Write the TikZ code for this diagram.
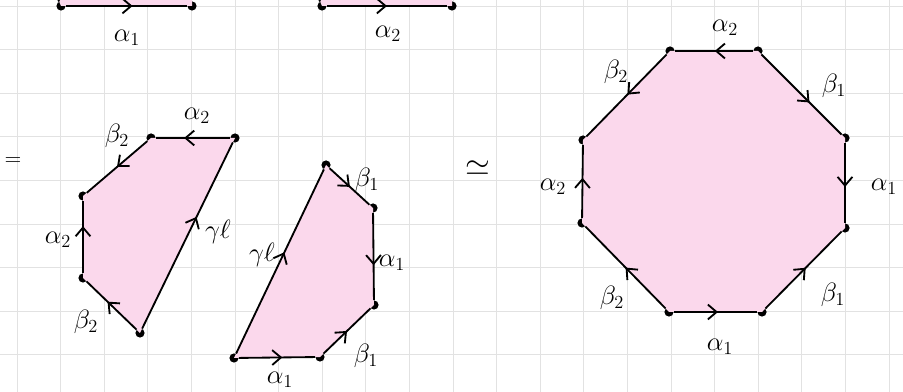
\documentclass[tikz,border=0pt]{standalone}
\usepackage{amsmath,amssymb}
\usepackage{xcolor}
\usepackage{tikz}
\usetikzlibrary{arrows.meta, decorations.markings}

\definecolor{sheetpink}{RGB}{251,216,236}
\definecolor{gridgray}{RGB}{226,226,226}

\begin{document}
\begin{tikzpicture}[
        x=0.022936cm, y=-0.022936cm,
        gridline/.style={draw=gridgray, line width=0.6pt},
        face/.style={fill=sheetpink, draw=none},
        side/.style={line width=1.2pt, draw=black},
        midarrow/.style={side, postaction={decorate}, decoration={markings, mark=at position #1 with {\arrow[line width=1.2pt]{Straight Barb[length=2mm, width=3.4mm]}}}},
        vertex/.style={circle, fill=black, inner sep=0pt, minimum size=6pt},
        lbl/.style={font=\LARGE, inner sep=1pt}
    ]

    % Sheet and grid
    \useasboundingbox (0,0) rectangle (903,392);
    \clip (0,0) rectangle (903,392);
    \fill[white] (0,0) rectangle (903,392);
    \foreach \gx in {0,...,20} \draw[gridline] (17+43.6*\gx,0) -- (17+43.6*\gx,392);
    \foreach \gy in {0,...,8} \draw[gridline] (0,6+43.6*\gy) -- (903,6+43.6*\gy);

    % Top strips (cut off)
    \node[vertex] (ta1s) at (61,6) {};
    \node[vertex] (ta1e) at (192,6) {};
    \node[vertex] (ta2s) at (322,6) {};
    \node[vertex] (ta2e) at (452,6) {};
    \coordinate (ta1up) at (50,-20);
    \coordinate (ta2up) at (311,-20);
    \fill[face] (ta1s.center) -- (ta1up) -- (192,-20) -- (ta1e.center) -- cycle;
    \fill[face] (ta2s.center) -- (ta2up) -- (452,-20) -- (ta2e.center) -- cycle;
    \draw[side] (ta1s) -- (ta1up);
    \draw[side] (ta2s) -- (ta2up);
    \draw[midarrow=0.55] (ta1s) -- (ta1e);
    \draw[midarrow=0.5] (ta2s) -- (ta2e);
    \node[lbl] (la1) at (127,38) {$\alpha_1$};
    \node[lbl] (la2) at (388,34) {$\alpha_2$};

    % Left piece
    \node[vertex] (lp1) at (151,138) {};
    \node[vertex] (lp2) at (235,138) {};
    \node[vertex] (lp3) at (140,333) {};
    \node[vertex] (lp4) at (83,278) {};
    \node[vertex] (lp5) at (83,196) {};
    \fill[face] (lp1.center) -- (lp2.center) -- (lp3.center) -- (lp4.center) -- (lp5.center) -- cycle;
    \draw[midarrow=0.62] (lp2) -- (lp1);
    \draw[midarrow=0.5] (lp1) -- (lp5);
    \draw[midarrow=0.65] (lp4) -- (lp5);
    \draw[midarrow=0.58] (lp3) -- (lp4);
    \draw[midarrow=0.6] (lp3) -- (lp2);
    \node[lbl] (lpa2t) at (197,116) {$\alpha_2$};
    \node[lbl] (lpb2t) at (117,136) {$\beta_2$};
    \node[lbl] (lpa2l) at (58,240) {$\alpha_2$};
    \node[lbl] (lpb2b) at (86,322) {$\beta_2$};
    \node[lbl] (lpg) at (218,232) {$\gamma\ell$};

    % Right piece
    \node[vertex] (rp1) at (326,165) {};
    \node[vertex] (rp2) at (373,208) {};
    \node[vertex] (rp3) at (374,305) {};
    \node[vertex] (rp4) at (320,357) {};
    \node[vertex] (rp5) at (234,358) {};
    \fill[face] (rp1.center) -- (rp2.center) -- (rp3.center) -- (rp4.center) -- (rp5.center) -- cycle;
    \draw[midarrow=0.55] (rp5) -- (rp1);
    \draw[midarrow=0.51] (rp1) -- (rp2);
    \draw[midarrow=0.6] (rp2) -- (rp3);
    \draw[midarrow=0.5] (rp4) -- (rp3);
    \draw[midarrow=0.57] (rp5) -- (rp4);
    \node[lbl] (rpg) at (262,255) {$\gamma\ell$};
    \node[lbl] (rpb1t) at (367,180) {$\beta_1$};
    \node[lbl] (rpa1r) at (392,263) {$\alpha_1$};
    \node[lbl] (rpb1b) at (366,356) {$\beta_1$};
    \node[lbl] (rpa1b) at (280,380) {$\alpha_1$};

    % Signs
    \node[font=\Large] (eqsign) at (13,162) {$=$};
    \node[font=\huge] (homeo) at (478,168) {$\simeq$};

    % Octagon
    \node[vertex] (oc1) at (670,51) {};
    \node[vertex] (oc2) at (758,51) {};
    \node[vertex] (oc3) at (845,138) {};
    \node[vertex] (oc4) at (845,228) {};
    \node[vertex] (oc5) at (762,312) {};
    \node[vertex] (oc6) at (669,312) {};
    \node[vertex] (oc7) at (582,223) {};
    \node[vertex] (oc8) at (583,140) {};
    \fill[face] (oc1.center) -- (oc2.center) -- (oc3.center) -- (oc4.center) -- (oc5.center) -- (oc6.center) -- (oc7.center) -- (oc8.center) -- cycle;
    \draw[midarrow=0.49] (oc2) -- (oc1);
    \draw[midarrow=0.6] (oc2) -- (oc3);
    \draw[midarrow=0.55] (oc3) -- (oc4);
    \draw[midarrow=0.53] (oc5) -- (oc4);
    \draw[midarrow=0.53] (oc6) -- (oc5);
    \draw[midarrow=0.5] (oc6) -- (oc7);
    \draw[midarrow=0.55] (oc7) -- (oc8);
    \draw[midarrow=0.49] (oc1) -- (oc8);
    \node[lbl] (oca2t) at (725,28) {$\alpha_2$};
    \node[lbl] (ocb2t) at (616,72) {$\beta_2$};
    \node[lbl] (ocb1t) at (834,86) {$\beta_1$};
    \node[lbl] (oca2l) at (553,187) {$\alpha_2$};
    \node[lbl] (oca1r) at (884,187) {$\alpha_1$};
    \node[lbl] (ocb2b) at (612,298) {$\beta_2$};
    \node[lbl] (ocb1b) at (833,295) {$\beta_1$};
    \node[lbl] (oca1b) at (720,347) {$\alpha_1$};

\end{tikzpicture}
\end{document}
